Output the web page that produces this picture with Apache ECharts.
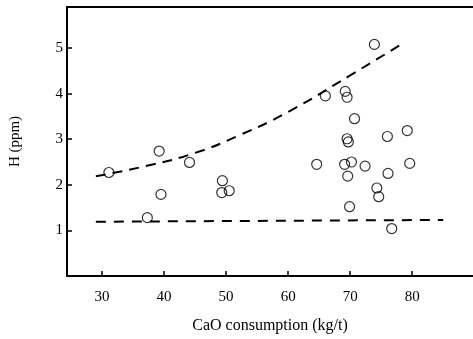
<!DOCTYPE html>
<html>
<head>
<meta charset="utf-8">
<script src="https://cdn.jsdelivr.net/npm/echarts@6/dist/echarts.min.js"></script>
<style>
  html, body { margin: 0; padding: 0; background: #fff; }
  #chart { width: 473px; height: 339px; }
</style>
</head>
<body>
<div id="chart"></div>
<script>
// measured points: CaO consumption (kg/t) vs H (ppm)
const caoValues = [31.1, 37.3, 39.2, 39.5, 44.1, 49.4, 49.3, 50.5, 64.6, 66.0, 69.2, 69.5, 70.7,
  69.5, 69.7, 69.1, 70.2, 72.4, 69.6, 69.9, 73.9, 74.3, 74.6, 76.0, 76.1, 76.7, 79.2, 79.6];
const hValues = [2.27, 1.28, 2.74, 1.79, 2.49, 2.09, 1.83, 1.87, 2.45, 3.95, 4.05, 3.92, 3.45,
  3.01, 2.94, 2.45, 2.50, 2.41, 2.19, 1.52, 5.08, 1.93, 1.74, 3.06, 2.25, 1.04, 3.19, 2.47];

// dashed guide lines
const upperX = [29, 37, 45, 52, 60, 70, 78.8];
const upperY = [2.19, 2.41, 2.7, 3.08, 3.6, 4.4, 5.13];
const lowerX = [29, 85];
const lowerY = [1.19, 1.23];

const xTicks = [30, 40, 50, 60, 70, 80];
const yTicks = [1, 2, 3, 4, 5];

const font = "'Liberation Serif', 'DejaVu Serif', serif";

const chart = echarts.init(document.getElementById("chart"));

const zip = (xs, ys) => xs.map((x, i) => [x, ys[i]]);

const option = {
  animation: false,
  backgroundColor: "#fff",
  grid: { left: 64, top: 7, right: 0, bottom: 62 },
  xAxis: [
    {
      type: "value",
      min: 24.35,
      max: 89.8,
      name: "CaO consumption (kg/t)",
      nameLocation: "middle",
      nameGap: 42,
      nameTextStyle: { fontFamily: font, fontSize: 16, color: "#000" },
      axisLine: { show: true, lineStyle: { color: "#000", width: 2 } },
      axisTick: { show: true, inside: true, length: 5, customValues: xTicks, lineStyle: { color: "#000", width: 1.5 } },
      axisLabel: { customValues: xTicks, fontFamily: font, fontSize: 15, color: "#000", margin: 14 },
      splitLine: { show: false },
    },
    {
      type: "value",
      position: "top",
      min: 24.35,
      max: 89.8,
      axisLine: { show: true, lineStyle: { color: "#000", width: 2 } },
      axisTick: { show: false },
      axisLabel: { show: false },
      splitLine: { show: false },
    },
  ],
  yAxis: {
    type: "value",
    min: 0,
    max: 5.9,
    name: "H (ppm)",
    nameLocation: "middle",
    nameGap: 44,
    nameTextStyle: { fontFamily: font, fontSize: 15, color: "#000" },
    axisLine: { show: true, lineStyle: { color: "#000", width: 2 } },
    axisTick: { show: true, inside: true, length: 5, customValues: yTicks, lineStyle: { color: "#000", width: 1.5 } },
    axisLabel: { customValues: yTicks, fontFamily: font, fontSize: 15, color: "#000", margin: 4 },
    splitLine: { show: false },
  },
  series: [
    {
      type: "line",
      data: zip(upperX, upperY),
      smooth: true,
      showSymbol: false,
      lineStyle: { color: "#000", width: 2, type: [10, 7] },
      z: 1,
    },
    {
      type: "line",
      data: zip(lowerX, lowerY),
      showSymbol: false,
      lineStyle: { color: "#000", width: 2, type: [10, 8] },
      z: 1,
    },
    {
      type: "scatter",
      data: zip(caoValues, hValues),
      symbol: "circle",
      symbolSize: 10,
      itemStyle: { color: "rgba(0,0,0,0)", borderColor: "#000", borderWidth: 1.2 },
      z: 2,
    },
  ],
};

chart.setOption(option);
</script>
</body>
</html>
